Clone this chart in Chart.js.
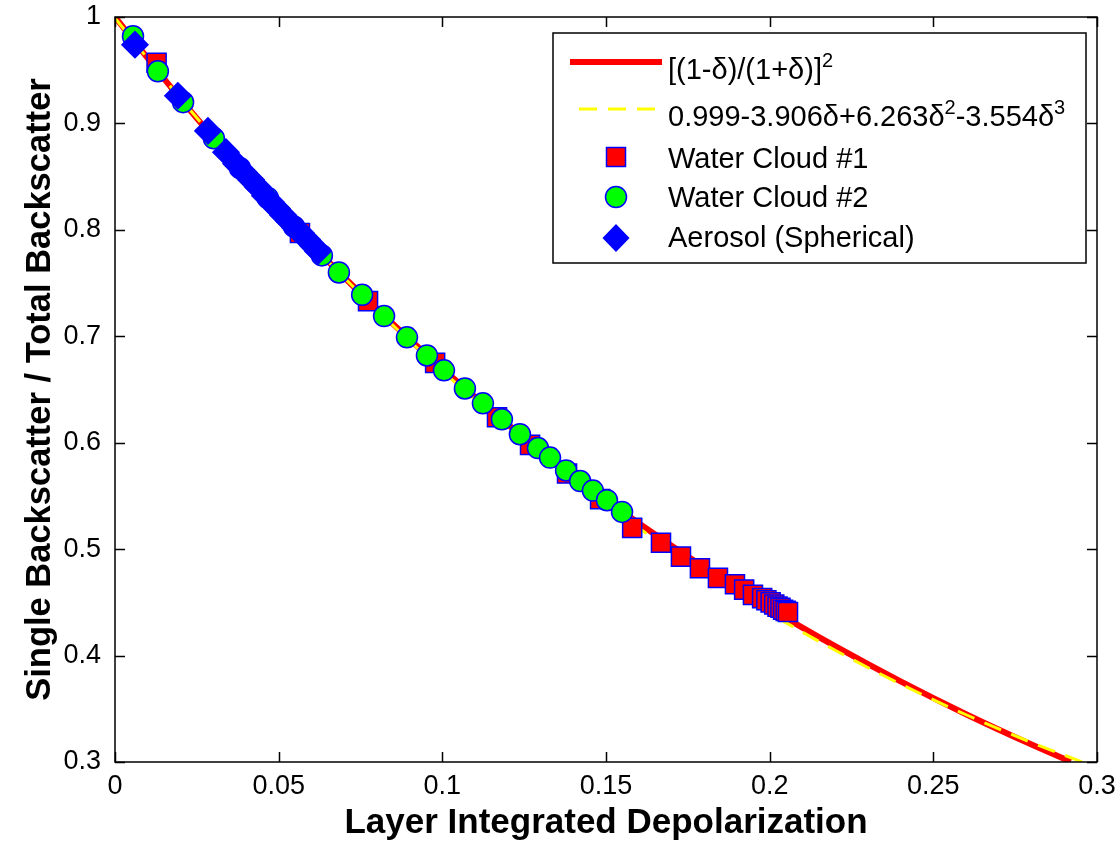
<!DOCTYPE html>
<html>
<head>
<meta charset="utf-8">
<script src="https://cdn.jsdelivr.net/npm/chart.js@4.4.0/dist/chart.umd.min.js"></script>
<style>
  html, body { margin: 0; padding: 0; background: #fff; }
</style>
</head>
<body>
<canvas id="depol" width="1120" height="844"></canvas>
<script>
// theory curve [(1-d)/(1+d)]^2 and the cubic fit
const curveDelta = [0, 0.02, 0.04, 0.06, 0.08, 0.10, 0.12, 0.14, 0.16, 0.18, 0.20, 0.22, 0.24, 0.26, 0.28, 0.292];
const curveRatio = [1, 0.9231, 0.8521, 0.7864, 0.7257, 0.6694, 0.6173, 0.5691, 0.5244, 0.4829, 0.4444, 0.4088, 0.3757, 0.3449, 0.3164, 0.3003];
const fitDelta = [0, 0.02, 0.04, 0.06, 0.08, 0.10, 0.12, 0.14, 0.16, 0.18, 0.20, 0.22, 0.24, 0.26, 0.28, 0.296];
const fitRatio = [0.999, 0.9234, 0.8526, 0.7864, 0.7248, 0.6675, 0.6143, 0.5652, 0.5198, 0.4781, 0.4399, 0.4050, 0.3732, 0.3444, 0.3183, 0.2994];

// Water Cloud #1 (squares)
const wc1Delta = [0.0127, 0.0565, 0.0773, 0.0978, 0.1167, 0.1268, 0.1381, 0.1482, 0.1580, 0.1668, 0.1729, 0.1787, 0.1842, 0.1894, 0.1922, 0.1949, 0.1977, 0.1990, 0.2003, 0.2014, 0.2024, 0.2033, 0.2041, 0.2049, 0.2056];
const wc1Ratio = [0.957, 0.797, 0.733, 0.675, 0.624, 0.598, 0.571, 0.547, 0.520, 0.506, 0.493, 0.482, 0.473, 0.467, 0.462, 0.457, 0.454, 0.452, 0.450, 0.448, 0.446, 0.445, 0.443, 0.442, 0.441];

// Water Cloud #2 (circles)
const wc2Delta = [0.0055, 0.0131, 0.0208, 0.0302, 0.0382, 0.0467, 0.0547, 0.0632, 0.0684, 0.0755, 0.0822, 0.0892, 0.0953, 0.1005, 0.1069, 0.1124, 0.1182, 0.1237, 0.1292, 0.1329, 0.1378, 0.1421, 0.1460, 0.1503, 0.1549];
const wc2Ratio = [0.982, 0.949, 0.920, 0.886, 0.858, 0.830, 0.803, 0.776, 0.760, 0.739, 0.719, 0.699, 0.682, 0.668, 0.651, 0.637, 0.622, 0.608, 0.595, 0.586, 0.574, 0.564, 0.555, 0.546, 0.535];

// Aerosol (spherical) (diamonds)
const aeroDelta = [0.0061, 0.0192, 0.0284, 0.0339, 0.0370, 0.0394, 0.0416, 0.0437, 0.0458, 0.0477, 0.0495, 0.0513, 0.0532, 0.0550, 0.0568, 0.0587, 0.0605, 0.0620];
const aeroRatio = [0.974, 0.926, 0.893, 0.873, 0.862, 0.854, 0.847, 0.840, 0.832, 0.826, 0.820, 0.814, 0.808, 0.802, 0.797, 0.791, 0.785, 0.780];

const seriesNames = ["[(1-δ)/(1+δ)]", "0.999-3.906δ+6.263δ", "Water Cloud #1", "Water Cloud #2", "Aerosol (Spherical)"];

const FONT = '"Liberation Sans", Arial, Helvetica, sans-serif';
Chart.defaults.font.family = FONT;
Chart.defaults.color = "#000";

const pts = (xs, ys) => xs.map((x, i) => ({ x: x, y: ys[i] }));
const tickText = (v) => String(Number(v.toFixed(3)));

// box with inward ticks on all four sides, like the matlab axes
const axesBox = {
  id: "axesBox",
  afterDatasetsDraw(chart) {
    const { ctx, chartArea: a, scales } = chart;
    const len = 10;
    ctx.save();
    ctx.strokeStyle = "#000";
    ctx.lineWidth = 1.5;
    ctx.beginPath();
    scales.x.ticks.forEach((t) => {
      const px = Math.round(scales.x.getPixelForValue(t.value)) + 0.5;
      ctx.moveTo(px, a.bottom); ctx.lineTo(px, a.bottom - len);
      ctx.moveTo(px, a.top); ctx.lineTo(px, a.top + len);
    });
    scales.y.ticks.forEach((t) => {
      const py = Math.round(scales.y.getPixelForValue(t.value)) + 0.5;
      ctx.moveTo(a.left, py); ctx.lineTo(a.left + len, py);
      ctx.moveTo(a.right, py); ctx.lineTo(a.right - len, py);
    });
    ctx.stroke();
    ctx.strokeRect(a.left, a.top, a.right - a.left, a.bottom - a.top);
    ctx.restore();
  },
};

function drawMarker(ctx, kind, x, y) {
  ctx.beginPath();
  if (kind === "rect") {
    ctx.rect(x - 9.5, y - 9.5, 19, 19);
    ctx.fillStyle = "#ff0000";
  } else if (kind === "circle") {
    ctx.arc(x, y, 10.5, 0, Math.PI * 2);
    ctx.fillStyle = "#00ff00";
  } else {
    ctx.moveTo(x - 12.5, y); ctx.lineTo(x, y - 13); ctx.lineTo(x + 12.5, y); ctx.lineTo(x, y + 13);
    ctx.closePath();
    ctx.fillStyle = "#0000ff";
  }
  ctx.fill();
  ctx.strokeStyle = "#0000ff";
  ctx.lineWidth = 1.5;
  ctx.stroke();
}

const legendBox = {
  id: "legendBox",
  afterDraw(chart) {
    const ctx = chart.ctx;
    const main = "29px " + FONT;
    const sup = "20px " + FONT;
    ctx.save();
    ctx.fillStyle = "#fff";
    ctx.fillRect(553, 33, 533, 230);
    ctx.strokeStyle = "#000";
    ctx.lineWidth = 1.5;
    ctx.strokeRect(553, 33, 533, 230);

    // line samples
    ctx.lineWidth = 6;
    ctx.strokeStyle = "#ff0000";
    ctx.beginPath(); ctx.moveTo(570, 62); ctx.lineTo(662, 62); ctx.stroke();
    ctx.lineWidth = 3;
    ctx.strokeStyle = "#ffff00";
    ctx.setLineDash([18, 11]);
    ctx.beginPath(); ctx.moveTo(579, 109); ctx.lineTo(662, 109); ctx.stroke();
    ctx.setLineDash([]);

    drawMarker(ctx, "rect", 616, 157);
    drawMarker(ctx, "circle", 616, 197);
    drawMarker(ctx, "diamond", 616, 238);

    const rich = (parts, x, y) => {
      parts.forEach((p) => {
        ctx.font = p.sup ? sup : main;
        ctx.fillText(p.t, x, p.sup ? y - 12 : y);
        x += ctx.measureText(p.t).width;
      });
    };
    ctx.fillStyle = "#000";
    ctx.textBaseline = "alphabetic";
    rich([{ t: seriesNames[0] }, { t: "2", sup: true }], 668, 79);
    rich([{ t: seriesNames[1] }, { t: "2", sup: true }, { t: "-3.554δ" }, { t: "3", sup: true }], 668, 126);
    rich([{ t: seriesNames[2] }], 668, 168);
    rich([{ t: seriesNames[3] }], 668, 207);
    rich([{ t: seriesNames[4] }], 668, 247);
    ctx.restore();
  },
};

// invisible tick marks give the label gap without widening the layout padding
const hiddenGrid = (len) => ({
  display: true,
  drawOnChartArea: false,
  drawTicks: true,
  tickLength: len,
  color: "rgba(0,0,0,0)",
});

new Chart(document.getElementById("depol"), {
  type: "scatter",
  data: {
    datasets: [
      {
        label: seriesNames[0],
        data: pts(curveDelta, curveRatio),
        showLine: true,
        borderColor: "#ff0000",
        borderWidth: 6,
        pointRadius: 0,
        cubicInterpolationMode: "monotone",
        order: 5,
      },
      {
        label: seriesNames[1],
        data: pts(fitDelta, fitRatio),
        showLine: true,
        borderColor: "#ffff00",
        borderWidth: 3,
        borderDash: [18, 11],
        pointRadius: 0,
        cubicInterpolationMode: "monotone",
        order: 4,
      },
      {
        label: seriesNames[2],
        data: pts(wc1Delta, wc1Ratio),
        pointStyle: "rect",
        pointRadius: 13.5,
        backgroundColor: "#ff0000",
        borderColor: "#0000ff",
        borderWidth: 1.5,
        order: 3,
      },
      {
        label: seriesNames[3],
        data: pts(wc2Delta, wc2Ratio),
        pointStyle: "circle",
        pointRadius: 10.5,
        backgroundColor: "#00ff00",
        borderColor: "#0000ff",
        borderWidth: 1.5,
        order: 2,
      },
      {
        label: seriesNames[4],
        data: pts(aeroDelta, aeroRatio),
        pointStyle: "rectRot",
        pointRadius: 13,
        backgroundColor: "#0000ff",
        borderColor: "#0000ff",
        borderWidth: 1.5,
        order: 1,
      },
    ],
  },
  options: {
    responsive: false,
    animation: false,
    layout: { padding: { top: 17, right: 23, left: 0, bottom: 0 } },
    plugins: {
      legend: { display: false },
      tooltip: { enabled: false },
    },
    scales: {
      x: {
        type: "linear",
        min: 0,
        max: 0.3,
        ticks: { stepSize: 0.05, padding: 0, font: { size: 27 }, maxRotation: 0, callback: tickText },
        grid: hiddenGrid(8),
        border: { display: false },
        title: {
          display: true,
          text: "Layer Integrated Depolarization",
          font: { size: 35, weight: "bold" },
          padding: { top: 0, bottom: 0 },
        },
        afterFit: (s) => { s.height = 82; },
      },
      y: {
        type: "linear",
        min: 0.3,
        max: 1,
        ticks: { stepSize: 0.1, padding: 0, font: { size: 27 }, callback: tickText },
        grid: hiddenGrid(14),
        border: { display: false },
        title: {
          display: true,
          text: "Single Backscatter / Total Backscatter",
          font: { size: 34.5, weight: "bold" },
          padding: { top: 20, bottom: 0 },
        },
        afterFit: (s) => { s.width = 115; },
      },
    },
  },
  plugins: [axesBox, legendBox],
});
</script>
</body>
</html>
